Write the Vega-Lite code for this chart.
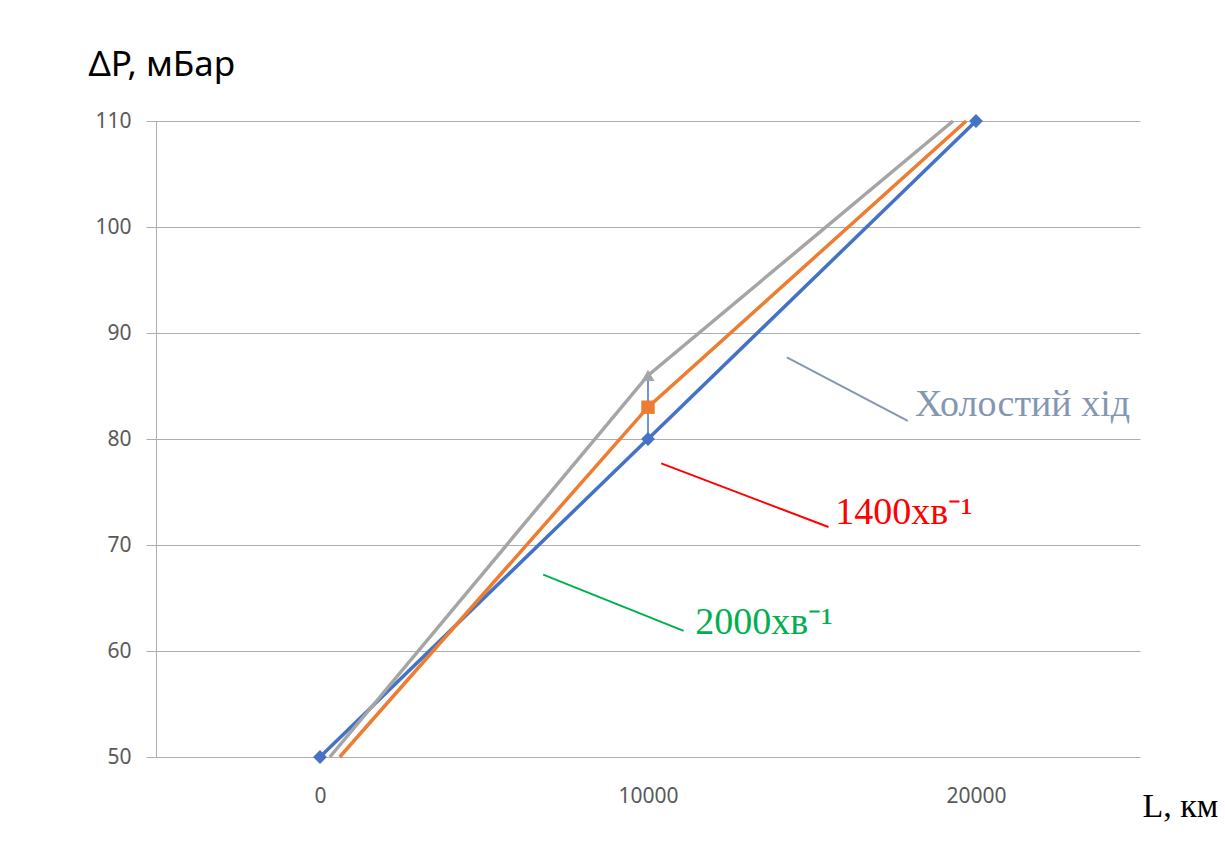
{
  "$schema": "https://vega.github.io/schema/vega-lite/v6.json",
  "width": 984,
  "height": 636,
  "autosize": {"type": "none"},
  "padding": {"left": 156, "top": 121, "right": 85, "bottom": 86},
  "background": "white",
  "config": {"view": {"stroke": null}, "font": "Noto Sans"},
  "datasets": {
    "series": [
      {"s": "s1", "x": 0, "y": 50},
      {"s": "s1", "x": 10000, "y": 80},
      {"s": "s1", "x": 20000, "y": 110},
      {"s": "s2", "x": 600, "y": 50},
      {"s": "s2", "x": 10000, "y": 83},
      {"s": "s2", "x": 19700, "y": 110},
      {"s": "s3", "x": 300, "y": 50},
      {"s": "s3", "x": 10000, "y": 86},
      {"s": "s3", "x": 19300, "y": 110}
    ],
    "ann": [
      {"k": "idle", "x": 14235, "y": 87.7, "x2": 17920, "y2": 81.7, "tx": 18142, "ty": 82.2, "label": "Холостий хід"},
      {"k": "r1400", "x": 10403, "y": 77.7, "x2": 15502, "y2": 71.7, "tx": 15706, "ty": 72.0, "label": "1400хв⁻¹"},
      {"k": "r2000", "x": 6804, "y": 67.2, "x2": 11086, "y2": 61.9, "tx": 11443, "ty": 61.6, "label": "2000хв⁻¹"}
    ],
    "bar": [{"x": 10000, "y": 80, "y2": 86}]
  },
  "layer": [
    {
      "data": {"name": "series"},
      "mark": {"type": "line", "strokeWidth": 3.5},
      "encoding": {
        "x": {
          "field": "x", "type": "quantitative",
          "scale": {"domain": [-5000, 25000], "nice": false, "zero": false},
          "axis": {
            "values": [0, 10000, 20000], "format": "d", "grid": false, "domain": false, "ticks": false, "tickSize": 0,
            "labelPadding": 28, "labelFontSize": 21, "labelColor": "#595959", "labelFont": "Noto Sans",
            "title": "L, км", "titleFont": "Liberation Serif", "titleFontSize": 34, "titleFontWeight": "normal",
            "titleColor": "#000000", "titleX": 986, "titleY": 59, "titleAlign": "left", "titleBaseline": "alphabetic"
          }
        },
        "y": {
          "field": "y", "type": "quantitative",
          "scale": {"domain": [50, 110], "nice": false, "zero": false},
          "axis": {
            "values": [50, 60, 70, 80, 90, 100, 110], "grid": true, "gridColor": "#ADADAD", "gridWidth": 1,
            "domain": true, "domainColor": "#ADADAD", "ticks": true, "tickColor": "#ADADAD", "tickSize": 10,
            "labelPadding": 15, "labelFontSize": 21, "labelColor": "#595959", "labelFont": "Noto Sans",
            "title": "ΔP, мБар", "titleAngle": 0, "titleX": -68, "titleY": -46, "titleAlign": "left",
            "titleBaseline": "alphabetic", "titleFontSize": 35, "titleFont": "Noto Sans", "titleFontWeight": "normal",
            "titleColor": "#000000"
          }
        },
        "color": {
          "field": "s", "type": "nominal",
          "scale": {"domain": ["s1", "s2", "s3"], "range": ["#4472C4", "#ED7D31", "#A5A5A5"]},
          "legend": null
        }
      }
    },
    {
      "data": {"name": "bar"},
      "mark": {"type": "rule", "color": "#4472C4", "strokeWidth": 1.5},
      "encoding": {
        "x": {"field": "x", "type": "quantitative"},
        "y": {"field": "y", "type": "quantitative"},
        "y2": {"field": "y2"}
      }
    },
    {
      "data": {"name": "series"},
      "transform": [{"filter": "datum.s == 's1' || datum.x == 10000"}],
      "mark": {"type": "point", "filled": true, "opacity": 1},
      "encoding": {
        "x": {"field": "x", "type": "quantitative"},
        "y": {"field": "y", "type": "quantitative"},
        "color": {
          "field": "s", "type": "nominal",
          "scale": {"domain": ["s1", "s2", "s3"], "range": ["#4472C4", "#ED7D31", "#A5A5A5"]},
          "legend": null
        },
        "shape": {
          "field": "s", "type": "nominal",
          "scale": {"domain": ["s1", "s2", "s3"], "range": ["diamond", "square", "triangle-up"]},
          "legend": null
        },
        "size": {
          "field": "s", "type": "nominal",
          "scale": {"domain": ["s1", "s2", "s3"], "range": [190, 170, 160]},
          "legend": null
        }
      }
    },
    {
      "data": {"name": "ann"},
      "mark": {"type": "rule", "strokeWidth": 2},
      "encoding": {
        "x": {"field": "x", "type": "quantitative"},
        "y": {"field": "y", "type": "quantitative"},
        "x2": {"field": "x2"},
        "y2": {"field": "y2"},
        "stroke": {
          "field": "k", "type": "nominal",
          "scale": {"domain": ["idle", "r1400", "r2000"], "range": ["#8497B0", "#FF0000", "#00B050"]},
          "legend": null
        }
      }
    },
    {
      "data": {"name": "ann"},
      "mark": {"type": "text", "font": "Liberation Serif", "fontSize": 38, "align": "left", "baseline": "alphabetic"},
      "encoding": {
        "x": {"field": "tx", "type": "quantitative"},
        "y": {"field": "ty", "type": "quantitative"},
        "text": {"field": "label"},
        "fill": {
          "field": "k", "type": "nominal",
          "scale": {"domain": ["idle", "r1400", "r2000"], "range": ["#8497B0", "#FF0000", "#00B050"]},
          "legend": null
        }
      }
    }
  ],
  "resolve": {"scale": {"color": "independent", "shape": "independent", "size": "independent"}}
}
